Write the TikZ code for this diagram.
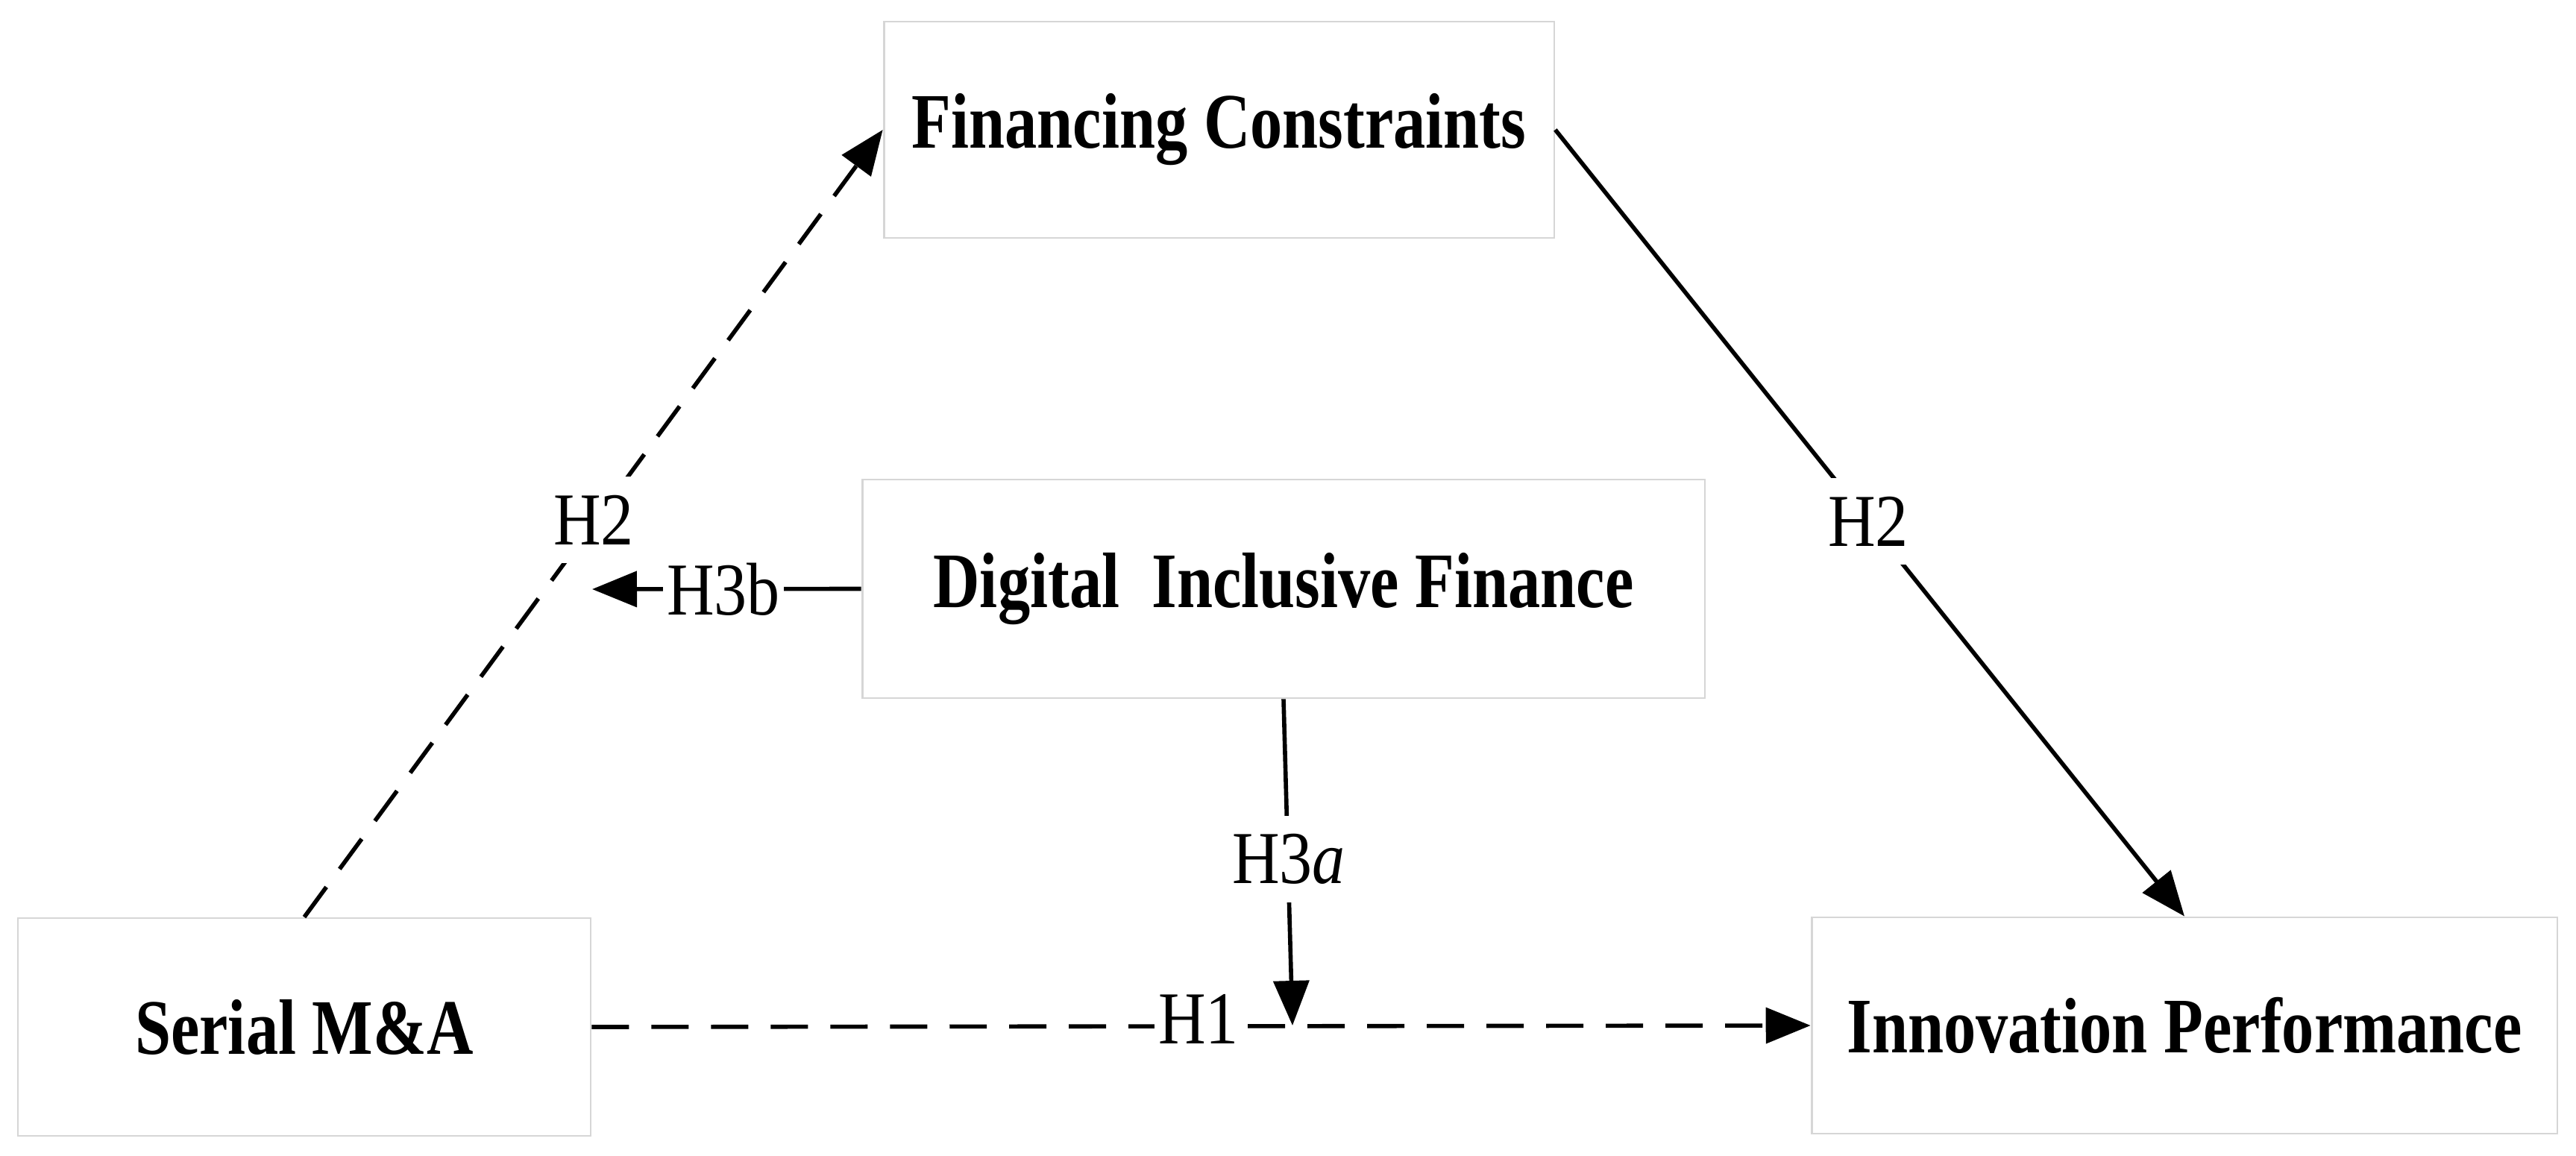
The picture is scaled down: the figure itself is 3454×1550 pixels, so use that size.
\documentclass[tikz,border=0pt]{standalone}
\usepackage{fontspec}
\setmainfont{Liberation Serif}
\usetikzlibrary{arrows.meta}
\begin{document}
\begin{tikzpicture}[x=0.02cm,y=-0.02cm,
  box/.style={draw=black!16,line width=1.6pt,fill=white,inner sep=0pt,
    font=\fontsize{60}{66}\selectfont\bfseries},
  conn/.style={line width=3.2pt,-{Triangle[length=1.2cm,width=0.95cm]}},
  dsh/.style={dash pattern=on 1cm off 0.6cm},
  lbl/.style={fill=white,inner xsep=3pt,inner ysep=14pt,font=\fontsize{57}{62}\selectfont}]
\useasboundingbox[fill=white] (0,0) rectangle (3454,1550);
\node[box,minimum width=15.36cm,minimum height=5.84cm] (S) at (408,1377) {\scalebox{0.82}[1]{Serial M\&A}};
\node[box,minimum width=20cm,minimum height=5.8cm] (I) at (2929,1375) {\scalebox{0.82}[1]{Innovation Performance}};
\node[box,minimum width=17.98cm,minimum height=5.8cm] (F) at (1634.5,174) {\scalebox{0.82}[1]{Financing Constraints}};
\node[box,minimum width=22.6cm,minimum height=5.86cm] (D) at (1721,789.5) {\scalebox{0.82}[1]{Digital\ \ Inclusive Finance}};
\coordinate (m) at (1733,1375);
\coordinate (b) at (794,790);
\draw[conn,dsh] (S.north) -- (F.west);
\draw[conn] (F.east) -- (I.north);
\draw[conn,dsh] (S.east) -- (I.west);
\draw[conn] (D.south) -- (m);
\draw[conn] (D.west) -- (b);
\node[lbl] (l1) at (796,697) {\scalebox{0.88}[1]{H2}};
\node[lbl] (l2) at (2505,699) {\scalebox{0.88}[1]{H2}};
\node[lbl,inner ysep=2pt] (l3) at (970,790) {\scalebox{0.88}[1]{H3b}};
\node[lbl] (l4) at (1728,1152) {\scalebox{0.88}[1]{H3\textit{a}}};
\node[lbl,inner ysep=2pt] (l5) at (1607,1366) {\scalebox{0.88}[1]{H1}};
\end{tikzpicture}
\end{document}
